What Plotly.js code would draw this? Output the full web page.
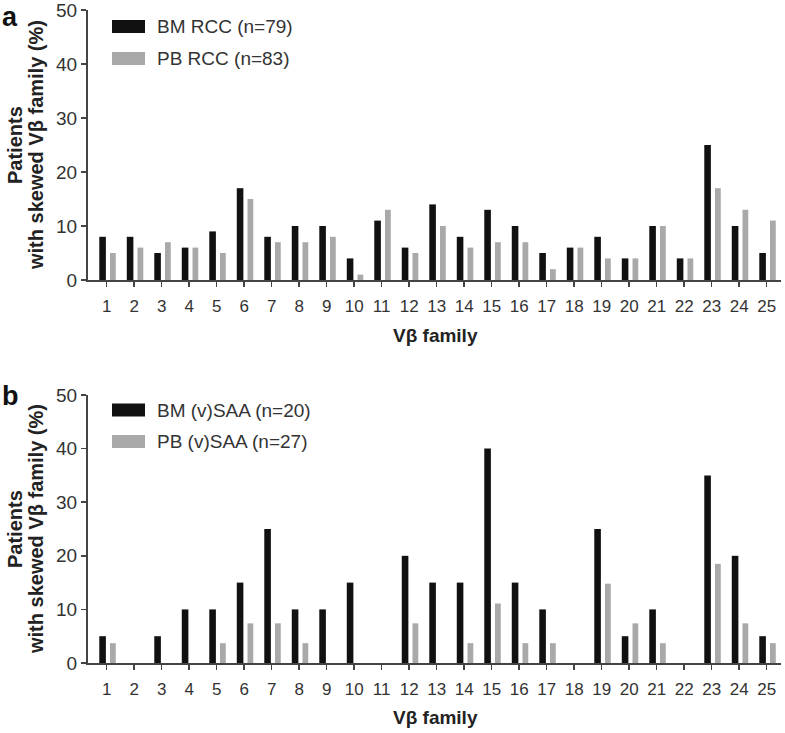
<!DOCTYPE html>
<html>
<head>
<meta charset="utf-8">
<script src="https://cdn.plot.ly/plotly-3.0.1.min.js"></script>
<style>html,body{margin:0;padding:0;background:#fff;}#chart{width:785px;height:733px;}</style>
</head>
<body>
<div id="chart"></div>
<script>
// ---- data ----
const categories = ['1','2','3','4','5','6','7','8','9','10','11','12','13','14','15','16','17','18','19','20','21','22','23','24','25'];
const bmRCC = [8, 8, 5, 6, 9, 17, 8, 10, 10, 4, 11, 6, 14, 8, 13, 10, 5, 6, 8, 4, 10, 4, 25, 10, 5];
const pbRCC = [5, 6, 7, 6, 5, 15, 7, 7, 8, 1, 13, 5, 10, 6, 7, 7, 2, 6, 4, 4, 10, 4, 17, 13, 11];
const bmSAA = [5, 0, 5, 10, 10, 15, 25, 10, 10, 15, 0, 20, 15, 15, 40, 15, 10, 0, 25, 5, 10, 0, 35, 20, 5];
const pbSAA = [3.7, 0, 0, 0, 3.7, 7.4, 7.4, 3.7, 0, 0, 0, 7.4, 0, 3.7, 11.1, 3.7, 3.7, 0, 14.8, 7.4, 3.7, 0, 18.5, 7.4, 3.7];
const yTicks = [0, 10, 20, 30, 40, 50];
const seriesNamesA = ['BM RCC (n=79)', 'PB RCC (n=83)'];
const seriesNamesB = ['BM (v)SAA (n=20)', 'PB (v)SAA (n=27)'];
const panelLabels = ['a', 'b'];
const xTitle = 'Vβ family';
const yTitleLines = ['Patients', 'with skewed Vβ family (%)'];

// ---- styling ----
const W = 785, H = 733;
const BLACK = '#111111', GRAY = '#a9a9a9', TXT = '#333333';
const FONT = '"Liberation Sans", Arial, Helvetica, sans-serif';
const px = v => v / W;
const py = v => 1 - v / H;

function bar(x, y, color, xa, ya, offset, width) {
  return {type: 'bar', x: x, y: y, xaxis: xa, yaxis: ya,
    marker: {color: color, line: {width: 0}}, offset: offset, width: width,
    showlegend: false, hoverinfo: 'x+y'};
}

const data = [
  bar(categories, bmRCC, BLACK, 'x', 'y', -0.27, 0.24),
  bar(categories, pbRCC, GRAY, 'x', 'y', 0.12, 0.21),
  bar(categories, bmSAA, BLACK, 'x2', 'y2', -0.27, 0.24),
  bar(categories, pbSAA, GRAY, 'x2', 'y2', 0.12, 0.21)
];

function xaxis(anchor) {
  return {domain: [px(88), px(781)], anchor: anchor, type: 'category',
    range: [-0.68, 24.52], showline: true, linecolor: '#444', linewidth: 2,
    ticks: 'outside', ticklen: 5, tickwidth: 1.5, tickcolor: '#444',
    tickfont: {family: FONT, size: 17, color: TXT}, ticklabelstandoff: 5,
    ticklabeloverflow: 'allow',
    showgrid: false, zeroline: false, fixedrange: true};
}
function yaxis(anchor, top, bottom) {
  return {domain: [py(bottom), py(top)], anchor: anchor, range: [0, 50],
    tickvals: yTicks, ticktext: yTicks.map(String),
    showline: true, linecolor: '#444', linewidth: 2,
    ticks: 'outside', ticklen: 5, tickwidth: 1.5, tickcolor: '#444',
    tickfont: {family: FONT, size: 19, color: TXT},
    ticklabeloverflow: 'allow',
    showgrid: false, zeroline: false, fixedrange: true};
}

const shapes = [];
const annotations = [];
function legend(names, y1, y2) {
  const ys = [y1, y2], cols = [BLACK, GRAY];
  for (let i = 0; i < 2; i++) {
    shapes.push({type: 'rect', xref: 'paper', yref: 'paper',
      x0: px(112), x1: px(145), y0: py(ys[i] + 6.5), y1: py(ys[i] - 6.5),
      fillcolor: cols[i], line: {width: 0}});
    annotations.push({xref: 'paper', yref: 'paper', x: px(155), y: py(ys[i]),
      xanchor: 'left', yanchor: 'middle', showarrow: false, text: names[i],
      font: {family: FONT, size: 19, color: TXT}});
  }
}
legend(seriesNamesA, 26.5, 58.5);
legend(seriesNamesB, 410, 441.5);

function titles(label, labelY, xTitleY, yCenter) {
  annotations.push({xref: 'paper', yref: 'paper', x: px(0), y: py(labelY),
    xanchor: 'left', yanchor: 'middle', showarrow: false, text: '<b>' + label + '</b>',
    font: {family: FONT, size: 27, color: '#111'}});
  annotations.push({xref: 'paper', yref: 'paper', x: px(435), y: py(xTitleY),
    xanchor: 'center', yanchor: 'middle', showarrow: false, text: '<b>' + xTitle + '</b>',
    font: {family: FONT, size: 19, color: '#222'}});
  annotations.push({xref: 'paper', yref: 'paper', x: px(15), y: py(yCenter),
    xanchor: 'center', yanchor: 'middle', showarrow: false, textangle: -90,
    text: '<b>' + yTitleLines[0] + '</b>', font: {family: FONT, size: 20, color: '#222'}});
  annotations.push({xref: 'paper', yref: 'paper', x: px(36), y: py(yCenter),
    xanchor: 'center', yanchor: 'middle', showarrow: false, textangle: -90,
    text: '<b>' + yTitleLines[1] + '</b>', font: {family: FONT, size: 20, color: '#222'}});
}
titles(panelLabels[0], 17, 335, 145);
titles(panelLabels[1], 396, 717, 529);

const layout = {
  width: W, height: H, margin: {l: 0, r: 0, t: 0, b: 0},
  paper_bgcolor: '#fff', plot_bgcolor: '#fff',
  barmode: 'overlay', showlegend: false,
  xaxis: xaxis('y'), yaxis: yaxis('x', 10, 280),
  xaxis2: xaxis('y2'), yaxis2: yaxis('x2', 395, 663),
  shapes: shapes, annotations: annotations,
  font: {family: FONT}
};

Plotly.newPlot('chart', data, layout, {displayModeBar: false, staticPlot: true});
</script>
</body>
</html>
